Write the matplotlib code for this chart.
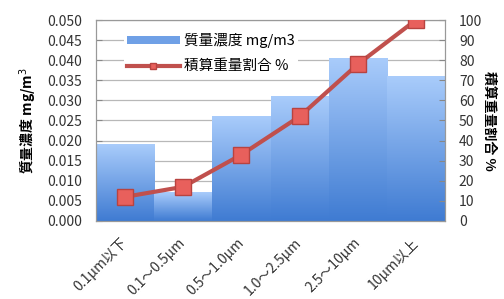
import matplotlib
matplotlib.use("Agg")
import matplotlib.pyplot as plt
import numpy as np
from matplotlib.colors import LinearSegmentedColormap
from matplotlib.lines import Line2D
from matplotlib.patches import Rectangle

plt.rcParams['font.family'] = ['Noto Sans CJK JP', 'DejaVu Sans']

categories = ["0.1μm以下", "0.1～0.5μm", "0.5～1.0μm", "1.0～2.5μm", "2.5～10μm", "10μm以上"]
mass_conc = [0.019, 0.007, 0.026, 0.031, 0.0405, 0.036]
cum_pct = [12, 17, 33, 52, 78, 100]
left_ticks = [0.000, 0.005, 0.010, 0.015, 0.020, 0.025, 0.030, 0.035, 0.040, 0.045, 0.050]
right_ticks = [0, 10, 20, 30, 40, 50, 60, 70, 80, 90, 100]

fig = plt.figure(figsize=(5.04, 2.99), dpi=100)
ax = fig.add_axes([0.1905, 0.261, 0.6925, 0.672])
ax2 = ax.twinx()

x = np.arange(len(categories))
cmap = LinearSegmentedColormap.from_list("bluegrad", ["#3f7bd2", "#a9ccfb"])
grad = np.linspace(0, 1, 256).reshape(-1, 1)
bars = ax.bar(x, mass_conc, width=1.0, color="none", zorder=2)
for b in bars:
    x0, y0 = b.get_x(), b.get_y()
    w, h = b.get_width(), b.get_height()
    ax.imshow(grad, cmap=cmap, aspect="auto", origin="lower",
              extent=[x0, x0 + w, y0, y0 + h], zorder=2)

ax.set_xlim(-0.5, len(categories) - 0.5)
ax.set_ylim(0, 0.05)
ax.set_yticks(left_ticks)
ax.set_yticklabels([f"{v:.3f}" for v in left_ticks])
ax.yaxis.grid(True, color="#b8b8b8", linewidth=0.9, zorder=0)
ax.set_axisbelow(True)
ax.set_xticks(x)
ax.set_xticklabels(categories, rotation=45, ha="right", va="center",
                   rotation_mode="anchor", fontsize=10, color="#333333")
ax.set_xticks(np.arange(-0.5, len(categories)), minor=True)
ax.tick_params(axis="x", which="major", length=0, pad=14)
ax.tick_params(axis="x", which="minor", direction="in", length=4, color="#999999")
ax.tick_params(axis="y", direction="in", length=4, color="#888888", labelsize=10, labelcolor="#333333", pad=10)
ax.set_ylabel("質量濃度 mg/m$^3$", fontsize=10, fontweight="bold", labelpad=6)

ax2.plot(x, cum_pct, color="#c0504d", linewidth=3, marker="s", markersize=12,
         markerfacecolor="#e8605c", markeredgecolor="#b84340", markeredgewidth=1, zorder=5)
ax2.set_ylim(0, 100)
ax2.set_yticks(right_ticks)
ax2.tick_params(axis="y", direction="in", length=4, color="#888888", labelsize=10, labelcolor="#333333", pad=10)
ax2.set_ylabel("積算重量割合 %", fontsize=10, fontweight="bold", rotation=-90, labelpad=10)

for a in (ax, ax2):
    for s in a.spines.values():
        s.set_color("#999999")

handles = [Rectangle((0, 0), 1, 1, facecolor="#6fa0e6", edgecolor="none"),
           Line2D([0], [0], color="#c0504d", linewidth=3, marker="s", markersize=5,
                  markerfacecolor="#e8605c", markeredgecolor="#b84340")]
leg = ax2.legend(handles, ["質量濃度 mg/m3", "積算重量割合 %"], loc="upper left",
                 bbox_to_anchor=(0.06, 0.985), frameon=True, fontsize=10.5,
                 handlelength=3.6, handleheight=0.4, borderpad=0.2, labelspacing=0.75,
                 handletextpad=0.3)
leg.get_frame().set_edgecolor("none")
leg.get_frame().set_facecolor("white")
leg.get_frame().set_alpha(1)

fig.savefig("out.png", dpi=100)
